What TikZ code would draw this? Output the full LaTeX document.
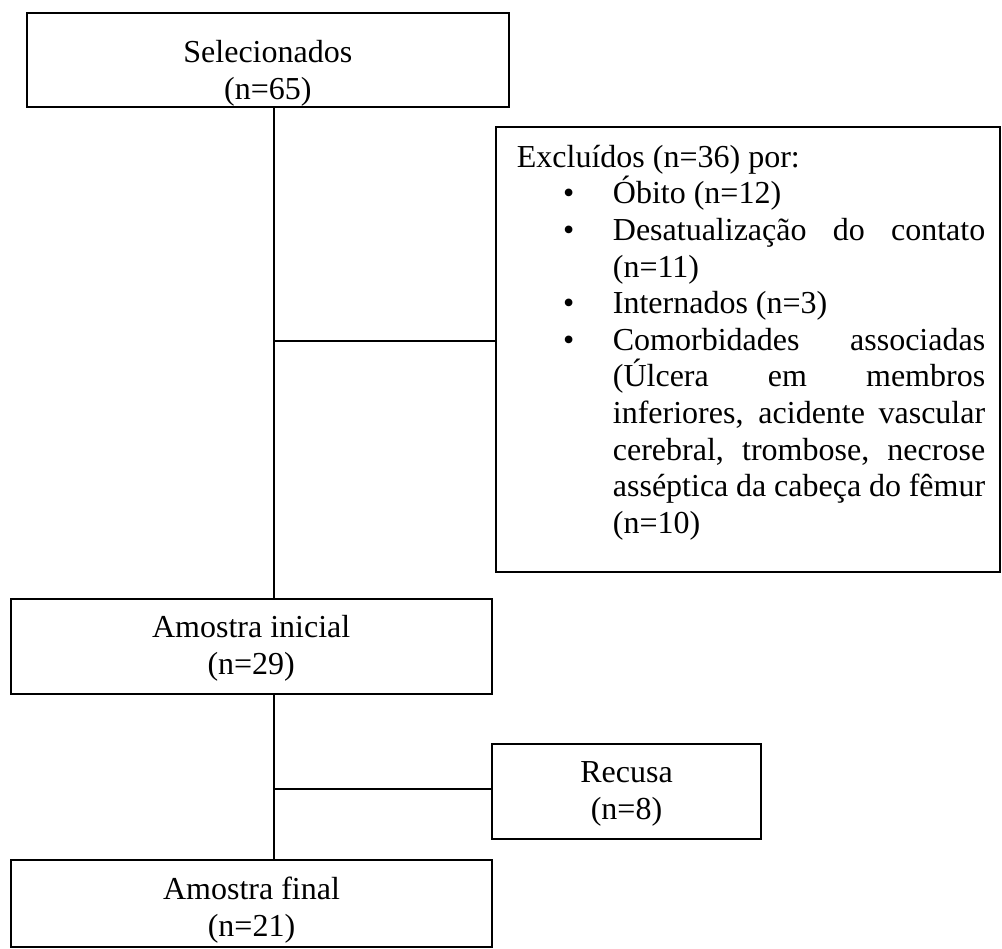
\documentclass[tikz,border=0pt]{standalone}
\usepackage{fontspec}
\setmainfont{Liberation Serif}
\newcommand\xitm{\hspace*{46.3pt}\makebox[49.7pt][l]{•}}
\newcommand\xcont{\hspace*{96pt}}
\newcommand\xjst[1]{\makebox[372.3pt][s]{#1}}
\begin{document}
\begin{tikzpicture}[x=1pt,y=-1pt,
  box/.style={draw, line width=1.8pt, inner sep=0pt},
  lbl/.style={align=center, font=\fontsize{32}{36.6}\selectfont, inner sep=0pt},
  conn/.style={line width=1.8pt}]
\useasboundingbox (0,0) rectangle (1002,949);
% boxes
\node[box, minimum width=481.7pt, minimum height=94.3pt] (sel) at (267.85,59.85) {};
\node[box, minimum width=504pt, minimum height=445pt] (exc) at (748,349.2) {};
\node[box, minimum width=481pt, minimum height=94.7pt] (ini) at (251.2,646.65) {};
\node[box, minimum width=269pt, minimum height=94.7pt] (rec) at (626.5,791.35) {};
\node[box, minimum width=481pt, minimum height=87pt] (fin) at (251.5,903.5) {};
% labels
\node[lbl] (tsel) at (267.85,73.5) {Selecionados\\(n=65)};
\node[lbl] (tini) at (251.2,648.5) {Amostra inicial\\(n=29)};
\node[lbl] (trec) at (626.5,794) {Recusa\\(n=8)};
\node[lbl] (tfin) at (251.5,910) {Amostra final\\(n=21)};
\node[inner sep=0pt, anchor=base west] (texc) at (516.7,167.3) {%
\begin{minipage}[t]{470pt}\fontsize{32}{36.6}\selectfont\setlength{\parindent}{0pt}%
Excluídos (n=36) por:\\
\xitm Óbito (n=12)\\
\xitm\xjst{Desatualização do contato}\\
\xcont (n=11)\\
\xitm Internados (n=3)\\
\xitm\xjst{Comorbidades associadas}\\
\xcont\xjst{(Úlcera em membros}\\
\xcont\xjst{inferiores, acidente vascular}\\
\xcont\xjst{cerebral, trombose, necrose}\\
\xcont\xjst{asséptica da cabeça do fêmur}\\
\xcont (n=10)
\end{minipage}};
% connectors
\coordinate (trunk) at (274.3,0);
\coordinate (j1) at (274.3,341);
\coordinate (j2) at (274.3,789);
\draw[conn] (sel.south -| trunk) -- (ini.north -| trunk);
\draw[conn] (j1) -- (j1 -| exc.west);
\draw[conn] (ini.south -| trunk) -- (fin.north -| trunk);
\draw[conn] (j2) -- (j2 -| rec.west);
\end{tikzpicture}
\end{document}
